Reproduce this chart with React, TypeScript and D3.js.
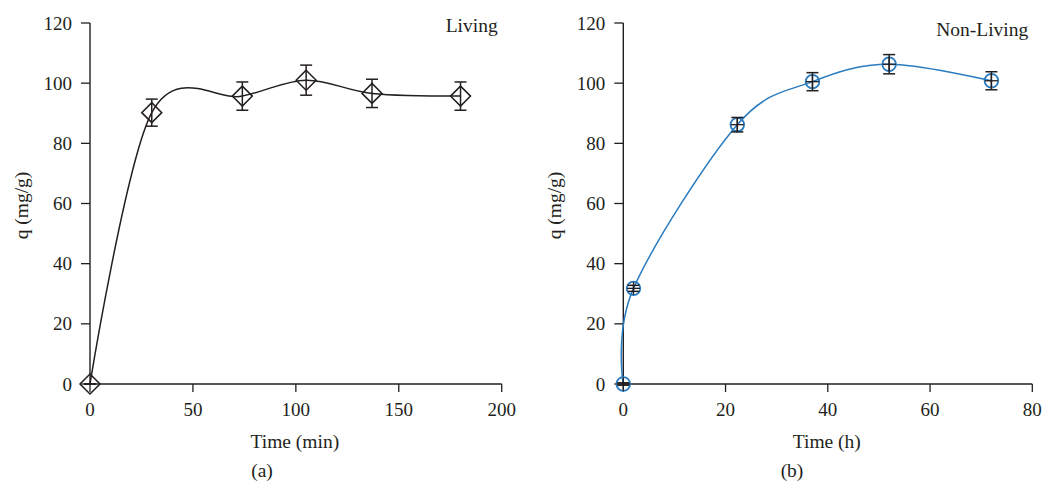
import React from "react";
import * as d3 from "d3";

// Panel (a) – Living
const livingTime = [0, 30, 74, 105, 137, 180];
const livingQ = [0, 90.2, 95.7, 101, 96.6, 95.7];
const livingErr = [0, 4.5, 4.7, 5, 4.7, 4.7];
const livingTicksX = [0, 50, 100, 150, 200];

// Panel (b) – Non-Living
const nonLivingTime = [0, 2, 22.3, 37, 52, 72];
const nonLivingQ = [0, 31.8, 86.2, 100.5, 106.3, 100.8];
const nonLivingErr = [0.4, 1, 2.4, 3, 3.2, 3];
const nonLivingTicksX = [0, 20, 40, 60, 80];

const ticksY = [0, 20, 40, 60, 80, 100, 120];

const INK = "#231f20";
const BLUE = "#2a7bbf";
const FONT = "'Liberation Serif', 'Times New Roman', serif";

type PanelProps = {
  x0: number;
  x1: number;
  xMax: number;
  xTicks: number[];
  t: number[];
  q: number[];
  err: number[];
  xTitle: string;
  tag: string;
  label: string;
  labelBaseline: number;
  yTitleX: number;
  tagX: number;
  kind: "diamond" | "circle";
};

function Panel(p: PanelProps) {
  const top = 23;
  const bottom = 384;
  const x = d3.scaleLinear().domain([0, p.xMax]).range([p.x0, p.x1]);
  const y = d3.scaleLinear().domain([0, 120]).range([bottom, top]);
  const pts: [number, number][] = p.t.map((tv, i) => [x(tv), y(p.q[i])]);
  const line = d3
    .line<[number, number]>()
    .x((d) => d[0])
    .y((d) => d[1])
    .curve(d3.curveCardinal.tension(0));
  const lineColor = p.kind === "diamond" ? INK : BLUE;
  const cap = 6;
  return (
    <g fontFamily={FONT} fill={INK}>
      {/* axes */}
      <line x1={p.x0} x2={p.x0} y1={top} y2={bottom} stroke={INK} strokeWidth={1.4} />
      <line x1={p.x0} x2={p.x1} y1={bottom} y2={bottom} stroke={INK} strokeWidth={1.4} />
      {ticksY.map((v) => (
        <g key={"y" + v}>
          <line x1={p.x0 - 9} x2={p.x0} y1={y(v)} y2={y(v)} stroke={INK} strokeWidth={1.3} />
          <text x={p.x0 - 18} y={y(v) + 6.5} textAnchor="end" fontSize={19}>
            {v}
          </text>
        </g>
      ))}
      {p.xTicks.map((v) => (
        <g key={"x" + v}>
          <line x1={x(v)} x2={x(v)} y1={bottom} y2={bottom + 8} stroke={INK} strokeWidth={1.3} />
          <text x={x(v)} y={416} textAnchor="middle" fontSize={19}>
            {v}
          </text>
        </g>
      ))}
      <text x={(p.x0 + p.x1) / 2 - 1} y={448} textAnchor="middle" fontSize={19.5}>
        {p.xTitle}
      </text>
      <text x={p.tagX} y={477} textAnchor="middle" fontSize={19.5}>
        {p.tag}
      </text>
      <text
        transform={`translate(${p.yTitleX},${(top + bottom) / 2 + 2}) rotate(-90)`}
        textAnchor="middle"
        fontSize={19.5}
      >
        q (mg/g)
      </text>
      <text x={p.x1 - 4} y={p.labelBaseline} textAnchor="end" fontSize={19.5}>
        {p.label}
      </text>
      {/* curve */}
      <path d={line(pts) || ""} fill="none" stroke={lineColor} strokeWidth={1.5} />
      {/* markers and error bars */}
      {pts.map(([px, py], i) => {
        const yt = y(p.q[i] + p.err[i]);
        const yb = y(p.q[i] - p.err[i]);
        return (
          <g key={"m" + i}>
            {p.kind === "diamond" ? (
              <path
                d={`M${px},${py - 10}L${px + 10},${py}L${px},${py + 10}L${px - 10},${py}Z`}
                fill="none"
                stroke={INK}
                strokeWidth={1.5}
              />
            ) : (
              <circle cx={px} cy={py} r={6.8} fill="none" stroke={BLUE} strokeWidth={1.8} />
            )}
            <line x1={px} x2={px} y1={yt} y2={yb} stroke={INK} strokeWidth={1.5} />
            <line x1={px - cap} x2={px + cap} y1={yt} y2={yt} stroke={INK} strokeWidth={1.5} />
            <line x1={px - cap} x2={px + cap} y1={yb} y2={yb} stroke={INK} strokeWidth={1.5} />
            {p.kind === "circle" && (
              <>
                <line x1={px - 6.5} x2={px + 6.5} y1={py} y2={py} stroke={INK} strokeWidth={1.3} />
                <line x1={px} x2={px} y1={py - 6.5} y2={py + 6.5} stroke={INK} strokeWidth={1.3} />
              </>
            )}
          </g>
        );
      })}
    </g>
  );
}

export default function App() {
  return (
    <svg
      width={1055}
      height={491}
      style={{ position: "absolute", left: 0, top: 0, background: "#fff" }}
    >
      <rect width={1055} height={491} fill="#fff" />
      <Panel
        x0={90}
        x1={501.7}
        xMax={200}
        xTicks={livingTicksX}
        t={livingTime}
        q={livingQ}
        err={livingErr}
        xTitle="Time (min)"
        tag="(a)"
        label="Living"
        labelBaseline={31.5}
        yTitleX={28}
        tagX={262}
        kind="diamond"
      />
      <Panel
        x0={623.3}
        x1={1032.3}
        xMax={80}
        xTicks={nonLivingTicksX}
        t={nonLivingTime}
        q={nonLivingQ}
        err={nonLivingErr}
        xTitle="Time (h)"
        tag="(b)"
        label="Non-Living"
        labelBaseline={36}
        yTitleX={561}
        tagX={792}
        kind="circle"
      />
    </svg>
  );
}
